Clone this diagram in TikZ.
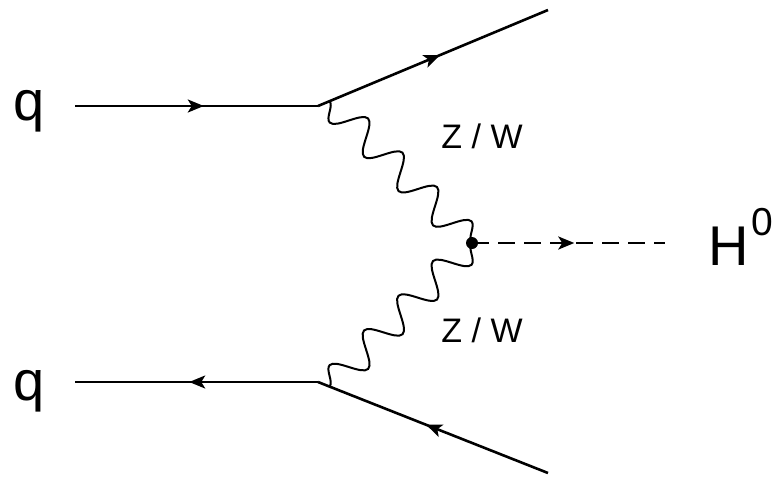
\documentclass[tikz,border=0pt]{standalone}
\usepackage{fontspec}
\setmainfont{Liberation Sans}
\usetikzlibrary{arrows.meta,decorations.markings,decorations.pathmorphing,calc}
\begin{document}
\begin{tikzpicture}[x=1pt,y=1pt,
  fermion/.style={line width=2.6pt, postaction={decorate},
    decoration={markings, mark=at position #1 with {\arrow{Stealth[length=16pt,width=13pt,inset=4pt]}}}},
  fermion/.default=0.53,
  boson/.style={line width=2pt, decorate, decoration={snake, amplitude=15pt, #1}},
  scalar/.style={line width=2.6pt, dash pattern=on 17pt off 9pt, postaction={decorate},
    decoration={markings, mark=at position 0.53 with {\arrow{Stealth[length=16pt,width=13pt,inset=4pt]}}}},
  bigtxt/.style={font=\fontsize{56}{60}\selectfont, inner sep=0pt},
  smalltxt/.style={font=\fontsize{34}{38}\selectfont, inner sep=0pt}]
\useasboundingbox (0,0) rectangle (773,-485);
\coordinate (A) at (75,-106);
\coordinate (V1) at (318,-106);
\coordinate (O1) at (548,-10);
\coordinate (B) at (75,-382);
\coordinate (V2) at (318,-382);
\coordinate (O2) at (548,-473);
\coordinate (V3) at (472,-243);
\coordinate (Hend) at (665,-243);
\coordinate (w1) at ($(V1)!0.05!(O1)$);
\coordinate (w2) at ($(V2)!0.05!(O2)$);
\draw[fermion] (A) -- (V1);
\draw[fermion] (V1) -- (O1);
\draw[fermion] (V2) -- (B);
\draw[fermion] (O2) -- (V2);
\draw[boson={mirror, segment length=48.6pt}] (w1) -- (V3);
\draw[boson={segment length=48.9pt}] (w2) -- (V3);
\draw[scalar] (V3) -- (Hend);
\fill (V3) circle (6pt);
\node[bigtxt, anchor=base] (q1) at (29,-120) {q};
\node[bigtxt, anchor=base] (q2) at (29,-400) {q};
\node[bigtxt, anchor=base west] (H) at (708,-265) {H\kern3pt\raisebox{30pt}{\fontsize{39}{40}\selectfont 0}};
\node[smalltxt, anchor=base] (zw1) at (482,-148) {Z / W};
\node[smalltxt, anchor=base] (zw2) at (482,-342) {Z / W};
\end{tikzpicture}
\end{document}
